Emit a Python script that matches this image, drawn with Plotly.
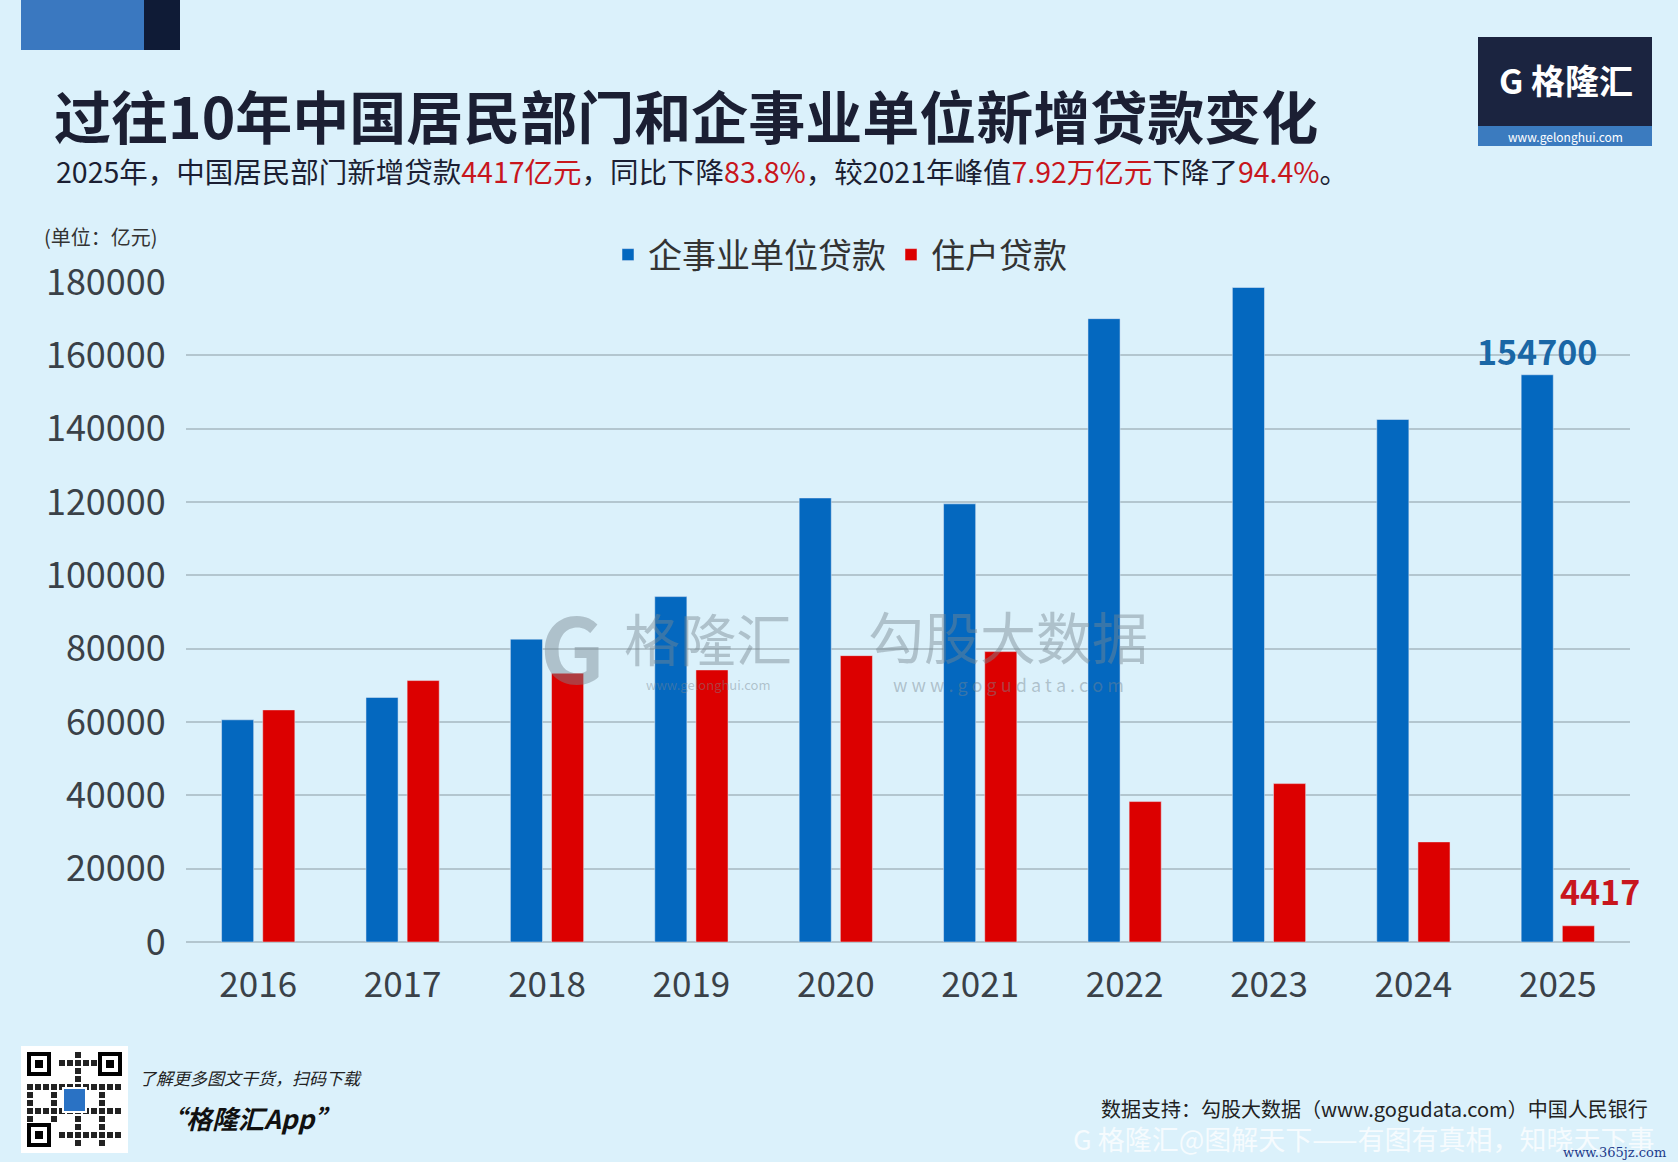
import plotly.graph_objects as go

# ---- data ----
years = ["2016", "2017", "2018", "2019", "2020", "2021", "2022", "2023", "2024", "2025"]
corp_loans = [60600, 66700, 82600, 94200, 121100, 119500, 170000, 178500, 142500, 154700]
household_loans = [63300, 71300, 73300, 74200, 78100, 79200, 38300, 43200, 27300, 4417]
y_ticks = [0, 20000, 40000, 60000, 80000, 100000, 120000, 140000, 160000, 180000]
series_names = ["企事业单位贷款", "住户贷款"]

# ---- geometry helpers (pixel -> paper) ----
W, H = 1678, 1162
L, R, T, B = 186, 48, 282, 220
FONT = "Noto Sans CJK SC"


def px(x):
    return (x - L) / (W - L - R)


def py(y):
    return (H - B - y) / (H - T - B)


BLUE = "#0468bf"
RED = "#dc0000"
BG = "#dbf1fb"

fig = go.Figure()
fig.add_trace(go.Bar(name=series_names[0], x=years, y=corp_loans, marker_color=BLUE))
fig.add_trace(go.Bar(name=series_names[1], x=years, y=household_loans, marker_color=RED))

shapes = []
annotations = []

# top-left decoration
shapes.append(dict(type="rect", xref="paper", yref="paper", x0=px(21), x1=px(144), y0=py(50), y1=py(0),
                   fillcolor="#3a78c0", line_width=0, layer="below"))
shapes.append(dict(type="rect", xref="paper", yref="paper", x0=px(144), x1=px(180), y0=py(50), y1=py(0),
                   fillcolor="#0f1b36", line_width=0, layer="below"))

# logo box top-right
shapes.append(dict(type="rect", xref="paper", yref="paper", x0=px(1478), x1=px(1652), y0=py(126), y1=py(37),
                   fillcolor="#1b2440", line_width=0, layer="below"))
shapes.append(dict(type="rect", xref="paper", yref="paper", x0=px(1478), x1=px(1652), y0=py(146), y1=py(126),
                   fillcolor="#3b7bbf", line_width=0, layer="below"))
annotations.append(dict(xref="paper", yref="paper", x=px(1566), y=py(80), xanchor="center", yanchor="middle",
                        text="<b>G 格隆汇</b>", showarrow=False, font=dict(family=FONT, size=34, color="white")))
annotations.append(dict(xref="paper", yref="paper", x=px(1565), y=py(136), xanchor="center", yanchor="middle",
                        text="www.gelonghui.com", showarrow=False, font=dict(family=FONT, size=12, color="white")))

# title & subtitle
annotations.append(dict(xref="paper", yref="paper", x=px(52), y=py(114), xanchor="left", yanchor="middle",
                        text="<b>过往10年中国居民部门和企事业单位新增贷款变化</b>", showarrow=False,
                        font=dict(family=FONT, size=57, color="#1b1f33")))
red = "#c8161d"
sub = ("2025年，中国居民部门新增贷款<span style='color:%s'>4417亿元</span>，同比下降"
       "<span style='color:%s'>83.8%%</span>，较2021年峰值<span style='color:%s'>7.92万亿元</span>"
       "下降了<span style='color:%s'>94.4%%</span>。") % (red, red, red, red)
annotations.append(dict(xref="paper", yref="paper", x=px(54), y=py(170), xanchor="left", yanchor="middle",
                        text=sub, showarrow=False, font=dict(family=FONT, size=28.5, color="#1b1f33")))
annotations.append(dict(xref="paper", yref="paper", x=px(42), y=py(236), xanchor="left", yanchor="middle",
                        text="(单位：亿元)", showarrow=False, font=dict(family=FONT, size=20, color="#333")))

# value labels (x given as category index of the last year)
last = len(years) - 1
annotations.append(dict(x=last, y=corp_loans[last], xref="x", yref="y", text="<b>154700</b>",
                        showarrow=False, xanchor="center", yanchor="bottom", xshift=-21, yshift=-2,
                        font=dict(family=FONT, size=34, color="#1a67a6")))
annotations.append(dict(x=last, y=household_loans[last], xref="x", yref="y", text="<b>4417</b>",
                        showarrow=False, xanchor="center", yanchor="bottom", xshift=42, yshift=9,
                        font=dict(family=FONT, size=34, color="#c8161d")))

# watermarks
wm = "rgba(120,135,145,0.45)"
annotations.append(dict(xref="paper", yref="paper", x=px(572), y=py(645), xanchor="center", yanchor="middle",
                        text="<b>G</b>", showarrow=False, font=dict(family=FONT, size=90, color=wm)))
annotations.append(dict(xref="paper", yref="paper", x=px(708), y=py(636), xanchor="center", yanchor="middle",
                        text="格隆汇", showarrow=False, font=dict(family=FONT, size=56, color=wm)))
annotations.append(dict(xref="paper", yref="paper", x=px(708), y=py(684), xanchor="center", yanchor="middle",
                        text="www.gelonghui.com", showarrow=False, font=dict(family=FONT, size=13, color=wm)))
annotations.append(dict(xref="paper", yref="paper", x=px(1008), y=py(634), xanchor="center", yanchor="middle",
                        text="勾股大数据", showarrow=False, font=dict(family=FONT, size=56, color=wm)))
annotations.append(dict(xref="paper", yref="paper", x=px(1008), y=py(684), xanchor="center", yanchor="middle",
                        text="w w w . g o g u d a t a . c o m", showarrow=False,
                        font=dict(family=FONT, size=18, color=wm)))

# footer
shapes.append(dict(type="rect", xref="paper", yref="paper", x0=px(21), x1=px(128), y0=py(1153), y1=py(1046),
                   fillcolor="white", line_width=0))
for (cx, cy) in [(27, 1052), (98, 1052), (27, 1123)]:
    shapes.append(dict(type="rect", xref="paper", yref="paper", x0=px(cx), x1=px(cx + 24), y0=py(cy + 24),
                       y1=py(cy), fillcolor="black", line_width=0))
    shapes.append(dict(type="rect", xref="paper", yref="paper", x0=px(cx + 4), x1=px(cx + 20), y0=py(cy + 20),
                       y1=py(cy + 4), fillcolor="white", line_width=0))
    shapes.append(dict(type="rect", xref="paper", yref="paper", x0=px(cx + 8), x1=px(cx + 16), y0=py(cy + 16),
                       y1=py(cy + 8), fillcolor="black", line_width=0))
for i in range(12):
    for j in range(12):
        gx, gy = 27 + i * 8, 1052 + j * 8
        if (gx < 55 and gy < 1080) or (gx > 94 and gy < 1080) or (gx < 55 and gy > 1119):
            continue
        if (i * 5 + j * 3 + i * j) % 3 == 0:
            shapes.append(dict(type="rect", xref="paper", yref="paper", x0=px(gx), x1=px(gx + 6),
                               y0=py(gy + 6), y1=py(gy), fillcolor="#222", line_width=0))
shapes.append(dict(type="rect", xref="paper", yref="paper", x0=px(63), x1=px(86), y0=py(1112), y1=py(1088),
                   fillcolor="#2a72c4", line=dict(color="white", width=2)))
annotations.append(dict(xref="paper", yref="paper", x=px(137), y=py(1077), xanchor="left", yanchor="middle",
                        text="<i>了解更多图文干货，扫码下载</i>", showarrow=False,
                        font=dict(family=FONT, size=17, color="#222")))
annotations.append(dict(xref="paper", yref="paper", x=px(158), y=py(1117), xanchor="left", yanchor="middle",
                        text="<b><i>“格隆汇App”</i></b>", showarrow=False,
                        font=dict(family=FONT, size=26, color="#111")))
annotations.append(dict(xref="paper", yref="paper", x=px(1650), y=py(1108), xanchor="right", yanchor="middle",
                        text="数据支持：勾股大数据（www.gogudata.com）中国人民银行", showarrow=False,
                        font=dict(family=FONT, size=20, color="#222")))
annotations.append(dict(xref="paper", yref="paper", x=px(1656), y=py(1138), xanchor="right", yanchor="middle",
                        text="G 格隆汇@图解天下——有图有真相，知晓天下事", showarrow=False,
                        font=dict(family=FONT, size=27, color="rgba(255,255,255,0.75)")))
annotations.append(dict(xref="paper", yref="paper", x=px(1668), y=py(1152), xanchor="right", yanchor="middle",
                        text="www.365jz.com", showarrow=False,
                        font=dict(family="DejaVu Serif", size=13, color="#1b3a8a")))

fig.update_layout(
    width=W, height=H,
    margin=dict(l=L, r=R, t=T, b=B, pad=0),
    paper_bgcolor=BG, plot_bgcolor=BG,
    barmode="group", bargap=0.43, bargroupgap=0.22,
    font=dict(family=FONT, color="#333"),
    showlegend=True,
    legend=dict(orientation="h", x=px(608), xanchor="left", y=py(255), yanchor="middle",
                font=dict(family=FONT, size=34, color="#333"), bgcolor="rgba(0,0,0,0)",
                itemwidth=30, traceorder="normal"),
    shapes=shapes,
    annotations=annotations,
)
fig.update_xaxes(type="category", categoryorder="array", categoryarray=years,
                 range=[-0.5, len(years) - 0.5], autorange=False,
                 showgrid=False, showline=False, zeroline=False,
                 ticks="outside", ticklen=12, tickcolor="rgba(0,0,0,0)",
                 tickfont=dict(family=FONT, size=35, color="#3a4148"))
fig.update_yaxes(range=[0, 180000], autorange=False, tickvals=y_ticks, tickformat="d", showgrid=True,
                 gridcolor="#b3c6cf", gridwidth=2, zeroline=True, zerolinecolor="#b3c6cf", zerolinewidth=2,
                 ticks="outside", ticklen=12, tickcolor="rgba(0,0,0,0)",
                 tickfont=dict(family=FONT, size=36, color="#3a4148"))

fig.write_html("out.html", config={"displayModeBar": False},
               post_script="document.body.style.margin='0';document.body.style.background='%s';" % BG)
